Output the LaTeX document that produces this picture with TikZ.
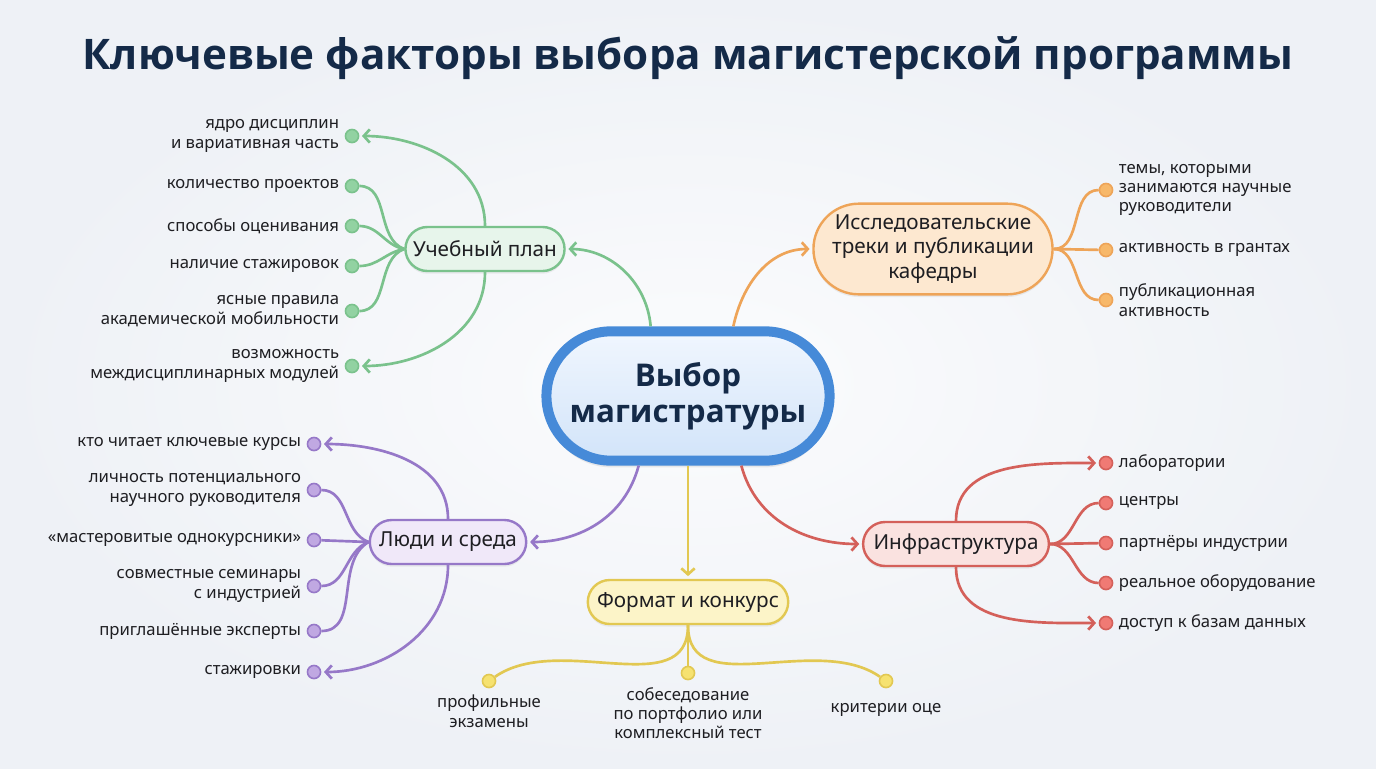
\documentclass[tikz,border=0pt]{standalone}
\usepackage{fontspec}
\setmainfont{Noto Sans}
\newfontfamily\headfont{Open Sans}
\usepackage{xcolor}
\usetikzlibrary{shapes.misc, arrows.meta, positioning, calc, shadows}
\definecolor{bg}{RGB}{238, 241, 246}
\definecolor{ink}{RGB}{30, 30, 34}
\definecolor{navy}{RGB}{20, 42, 72}
\definecolor{hubline}{RGB}{70, 138, 216}
\definecolor{hubtop}{RGB}{240, 246, 254}
\definecolor{hubbot}{RGB}{210, 228, 249}
\definecolor{gline}{RGB}{122, 194, 140}
\definecolor{gfill}{RGB}{231, 245, 235}
\definecolor{gdot}{RGB}{146, 210, 162}
\definecolor{oline}{RGB}{238, 164, 88}
\definecolor{ofill}{RGB}{253, 232, 208}
\definecolor{odot}{RGB}{247, 184, 106}
\definecolor{pline}{RGB}{150, 120, 200}
\definecolor{pfill}{RGB}{240, 232, 249}
\definecolor{pdot}{RGB}{192, 168, 226}
\definecolor{yline}{RGB}{226, 200, 82}
\definecolor{yfill}{RGB}{252, 244, 200}
\definecolor{ydot}{RGB}{246, 226, 112}
\definecolor{rline}{RGB}{212, 96, 90}
\definecolor{rfill}{RGB}{250, 226, 224}
\definecolor{rdot}{RGB}{240, 122, 116}
\tikzstyle{link} = [line width=2pt]
\tikzstyle{arrow} = [link, -{Straight Barb[length=4.5pt,width=10pt]}, shorten >=2pt]
\tikzstyle{hub} = [rounded rectangle, draw=hubline, line width=7.5pt, top color=hubtop, bottom color=hubbot, minimum width=219pt, minimum height=97pt, align=center, text=navy, font=\headfont\fontsize{23.5}{27}\selectfont\bfseries, drop shadow={opacity=0.15, shadow xshift=0pt, shadow yshift=-5pt}]
\tikzstyle{branch} = [rounded rectangle, line width=1.8pt, minimum height=33pt, align=center, text=ink, font=\fontsize{15.5}{18.5}\selectfont, drop shadow={opacity=0.12, shadow xshift=0pt, shadow yshift=-2pt}]
\tikzstyle{dot} = [circle, minimum size=9.8pt, inner sep=0pt, line width=1.2pt]
\tikzstyle{leaf} = [inner sep=0pt, text=ink, font=\fontsize{12.5}{14.5}\selectfont]

\begin{document}
\begin{tikzpicture}[x=0.75pt, y=-0.75pt]
    \useasboundingbox (0,0) rectangle (1376,768);
    \fill [bg] (0,0) rectangle (1376,768);
    \shade [inner color=white!80!bg, outer color=bg] (0,0) rectangle (1376,768);

    \node (title) [text=navy, font=\headfont\fontsize{31.6}{36}\selectfont\bfseries] at (688,58) {Ключевые факторы выбора магистерской программы};

    \node (hub) [hub] at (688,396) {Выбор\\магистратуры};

    % branches
    \node (plan) [branch, draw=gline, fill=gfill, minimum width=126pt] at (485,249) {Учебный план};
    \node (research) [branch, draw=oline, fill=ofill, minimum width=186pt, minimum height=68pt] at (933,249) {Исследовательские\\треки и публикации\\кафедры};
    \node (people) [branch, draw=pline, fill=pfill, minimum width=124pt] at (448,542) {Люди и среда};
    \node (format) [branch, draw=yline, fill=yfill, minimum width=157pt] at (688,602) {Формат и конкурс};
    \node (infra) [branch, draw=rline, fill=rfill, minimum width=146pt] at (956,544) {Инфраструктура};

    % curriculum
    \node (g1) [dot, draw=gline, fill=gdot] at (352,136) {};
    \node (g2) [dot, draw=gline, fill=gdot] at (352,186) {};
    \node (g3) [dot, draw=gline, fill=gdot] at (352,226) {};
    \node (g4) [dot, draw=gline, fill=gdot] at (352,266) {};
    \node (g5) [dot, draw=gline, fill=gdot] at (352,311) {};
    \node (g6) [dot, draw=gline, fill=gdot] at (352,366) {};
    \node [leaf, align=right, left=4pt of g1] {ядро дисциплин\\и вариативная часть};
    \node [leaf, left=4pt of g2] {количество проектов};
    \node [leaf, left=4pt of g3] {способы оценивания};
    \node [leaf, left=4pt of g4] {наличие стажировок};
    \node [leaf, align=right, left=4pt of g5] {ясные правила\\академической мобильности};
    \node [leaf, align=right, left=4pt of g6] {возможность\\междисциплинарных модулей};

    % research
    \node (o1) [dot, draw=oline, fill=odot] at (1106,190) {};
    \node (o2) [dot, draw=oline, fill=odot] at (1106,250) {};
    \node (o3) [dot, draw=oline, fill=odot] at (1106,300) {};
    \node [leaf, align=left, right=4pt of o1] {темы, которыми\\занимаются научные\\руководители};
    \node [leaf, right=4pt of o2] {активность в грантах};
    \node [leaf, align=left, right=4pt of o3] {публикационная\\активность};

    % people
    \node (p1) [dot, draw=pline, fill=pdot] at (314,444) {};
    \node (p2) [dot, draw=pline, fill=pdot] at (314,490) {};
    \node (p3) [dot, draw=pline, fill=pdot] at (314,540) {};
    \node (p4) [dot, draw=pline, fill=pdot] at (314,586) {};
    \node (p5) [dot, draw=pline, fill=pdot] at (314,631) {};
    \node (p6) [dot, draw=pline, fill=pdot] at (314,672) {};
    \node [leaf, left=4pt of p1] {кто читает ключевые курсы};
    \node [leaf, align=right, left=4pt of p2] {личность потенциального\\научного руководителя};
    \node [leaf, left=4pt of p3] {«мастеровитые однокурсники»};
    \node [leaf, align=right, left=4pt of p4] {совместные семинары\\с индустрией};
    \node [leaf, left=4pt of p5] {приглашённые эксперты};
    \node [leaf, left=4pt of p6] {стажировки};

    % format
    \node (y1) [dot, draw=yline, fill=ydot] at (489,681) {};
    \node (y2) [dot, draw=yline, fill=ydot] at (688,673) {};
    \node (y3) [dot, draw=yline, fill=ydot] at (886,681) {};
    \node [leaf, align=center, below=5pt of y1] {профильные\\экзамены};
    \node [leaf, align=center, below=5pt of y2] {собеседование\\по портфолио или\\комплексный тест};
    \node [leaf, below=11pt of y3] {критерии оце};

    % infrastructure
    \node (r1) [dot, draw=rline, fill=rdot] at (1106,463) {};
    \node (r2) [dot, draw=rline, fill=rdot] at (1106,503) {};
    \node (r3) [dot, draw=rline, fill=rdot] at (1106,543) {};
    \node (r4) [dot, draw=rline, fill=rdot] at (1106,583) {};
    \node (r5) [dot, draw=rline, fill=rdot] at (1106,623) {};
    \node [leaf, right=4pt of r1] {лаборатории};
    \node [leaf, right=4pt of r2] {центры};
    \node [leaf, right=4pt of r3] {партнёры индустрии};
    \node [leaf, right=4pt of r4] {реальное оборудование};
    \node [leaf, right=4pt of r5] {доступ к базам данных};

    % hub to branches
    \draw [arrow, gline] ([xshift=-28pt]hub.north) to[out=95, in=0] (plan.east);
    \draw [arrow, oline] ([xshift=34pt]hub.north) to[out=78, in=180] (research.west);
    \draw [arrow, pline] ([xshift=-37pt]hub.south) to[out=-105, in=0] (people.east);
    \draw [arrow, yline] (hub.south) -- (format.north);
    \draw [arrow, rline] ([xshift=40pt]hub.south) to[out=-75, in=180] (infra.west);

    % branches to leaves
    \draw [arrow, gline] (plan.north) to[out=90, in=0] (g1);
    \draw [arrow, gline] (plan.south) to[out=-90, in=0] (g6);
    \draw [link, gline] (g2) to[out=0, in=160] (plan.west);
    \draw [link, gline] (g3) to[out=0, in=170] (plan.west);
    \draw [link, gline] (g4) to[out=0, in=190] (plan.west);
    \draw [link, gline] (g5) to[out=0, in=200] (plan.west);

    \draw [link, oline] (research.east) to[out=0, in=180] (o1);
    \draw [link, oline] (research.east) -- (o2);
    \draw [link, oline] (research.east) to[out=0, in=180] (o3);

    \draw [arrow, pline] (people.north) to[out=90, in=0] (p1);
    \draw [arrow, pline] (people.south) to[out=-90, in=0] (p6);
    \draw [link, pline] (p2) to[out=0, in=160] (people.west);
    \draw [link, pline] (p3) -- (people.west);
    \draw [link, pline] (p4) to[out=0, in=200] (people.west);
    \draw [link, pline] (p5) to[out=0, in=210] (people.west);

    \draw [link, yline] (format.south) to[out=-90, in=35] (y1);
    \draw [link, yline] (format.south) -- (y2);
    \draw [link, yline] (format.south) to[out=-90, in=145] (y3);

    \draw [arrow, rline] (infra.north) to[out=90, in=180] (r1);
    \draw [arrow, rline] (infra.south) to[out=-90, in=180] (r5);
    \draw [link, rline] (infra.east) to[out=0, in=180] (r2);
    \draw [link, rline] (infra.east) -- (r3);
    \draw [link, rline] (infra.east) to[out=0, in=180] (r4);
\end{tikzpicture}
\end{document}
